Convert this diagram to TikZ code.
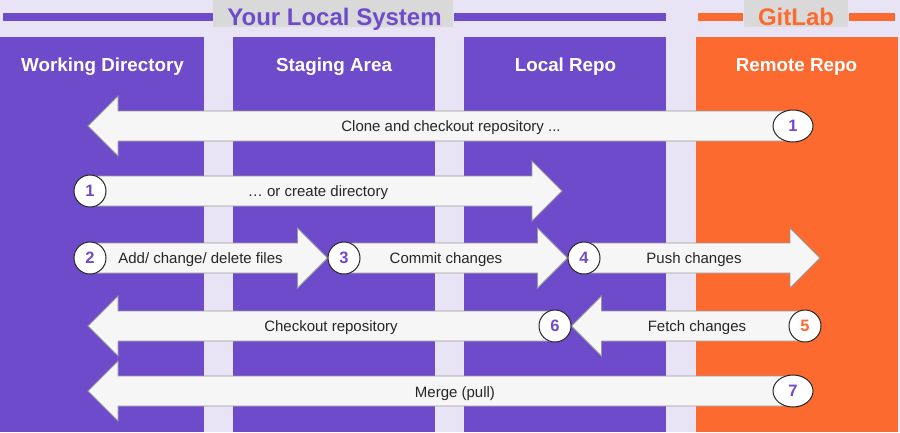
\documentclass[tikz,border=0pt]{standalone}
\usepackage{fontspec}
\setmainfont{Liberation Sans}
\usetikzlibrary{calc,shapes.geometric}
\definecolor{gitpurple}{HTML}{6E4BCA}
\definecolor{gitorange}{HTML}{FC6A2F}
\definecolor{lavender}{HTML}{E9E4F5}
\definecolor{bandgray}{HTML}{D9D9D9}
\definecolor{arrowfill}{HTML}{F6F6F6}
\pgfdeclarelayer{background}
\pgfdeclarelayer{arrowlayer}
\pgfsetlayers{background,arrowlayer,main}
\newcommand{\blockarrow}[2]{%
  \path[blockarrowstyle] let \p1=(#1.center), \p2=(#2), \p3=($(#2)!30pt!(#1.center)$) in
    (\x1,\y1+15pt) -- (\x3,\y1+15pt) -- (\x3,\y1+30pt) -- (\x2,\y1)
    -- (\x3,\y1-30pt) -- (\x3,\y1-15pt) -- (\x1,\y1-15pt) -- cycle;}
\begin{document}
\begin{tikzpicture}[x=1pt,y=-1pt,
    bandtitle/.style={font=\bfseries\fontsize{24}{28}\selectfont,anchor=base},
    coltitle/.style={text=white,font=\bfseries\fontsize{18.8}{22}\selectfont,anchor=base},
    steplabel/.style={text=black!85,font=\fontsize{15}{18}\selectfont,anchor=base},
    stepnum/.style={circle,draw=black!85,line width=1pt,fill=white,minimum size=32pt,inner sep=0pt,
      text=gitpurple,font=\bfseries\fontsize{16.5}{20}\selectfont},
    stepnumwide/.style={stepnum,ellipse,minimum width=40pt,minimum height=32pt},
    blockarrowstyle/.style={fill=arrowfill,draw=black!40,line width=0.8pt}]
    \begin{pgfonlayer}{background}
        \fill[lavender] (0,0) rectangle (900,432);
        \fill[gitpurple] (0,37) rectangle (204,432);
        \fill[gitpurple] (233,37) rectangle (435,432);
        \fill[gitpurple] (464,37) rectangle (666,432);
        \fill[gitorange] (696,37) rectangle (898,432);
        \fill[gitpurple] (3,13) rectangle (213,21);
        \fill[bandgray] (213,0) rectangle (453,27);
        \fill[gitpurple] (454,13) rectangle (666,21);
        \fill[gitorange] (698,13) rectangle (743,21);
        \fill[bandgray] (744,0) rectangle (848,27);
        \fill[gitorange] (849,13) rectangle (895,21);
    \end{pgfonlayer}
    \useasboundingbox (0,0) rectangle (900,432);
    \node[bandtitle,text=gitpurple] (localsys) at (334.5,25) {Your Local System};
    \node[bandtitle,text=gitorange] (gitlab) at (796,25) {GitLab};
    \node[coltitle] (workdir) at (102.5,71) {Working Directory};
    \node[coltitle] (staging) at (334,71) {Staging Area};
    \node[coltitle] (localrepo) at (565.5,71) {Local Repo};
    \node[coltitle] (remoterepo) at (796.5,71) {Remote Repo};
    \node[stepnumwide] (clone) at (793,126) {1};
    \node[stepnum] (create) at (90,191) {1};
    \node[stepnum] (add) at (90,258) {2};
    \node[stepnum] (commit) at (344,258) {3};
    \node[stepnum] (push) at (584,258) {4};
    \node[stepnum,text=gitorange] (fetch) at (805,326) {5};
    \node[stepnum] (checkout) at (555,326) {6};
    \node[stepnumwide] (merge) at (793,391) {7};
    \coordinate (cloneend) at (88,126);
    \coordinate (createend) at (562,191);
    \coordinate (pushend) at (820,258);
    \coordinate (checkoutend) at (88,326);
    \coordinate (mergeend) at (88,391);
    \begin{pgfonlayer}{arrowlayer}
        \blockarrow{clone}{cloneend}
        \blockarrow{create}{createend}
        \blockarrow{add}{commit.west}
        \blockarrow{commit}{push.west}
        \blockarrow{push}{pushend}
        \blockarrow{fetch}{checkout.east}
        \blockarrow{checkout}{checkoutend}
        \blockarrow{merge}{mergeend}
    \end{pgfonlayer}
    \node[steplabel] (clonetxt) at (451,131) {Clone and checkout repository ...};
    \node[steplabel] (createtxt) at (318,196) {… or create directory};
    \node[steplabel] (addtxt) at (200.5,263) {Add/ change/ delete files};
    \node[steplabel] (committxt) at (446,263) {Commit changes};
    \node[steplabel] (pushtxt) at (694,263) {Push changes};
    \node[steplabel] (checkouttxt) at (331,331) {Checkout repository};
    \node[steplabel] (fetchtxt) at (697,331) {Fetch changes};
    \node[steplabel] (mergetxt) at (455,397) {Merge (pull)};
\end{tikzpicture}
\end{document}
